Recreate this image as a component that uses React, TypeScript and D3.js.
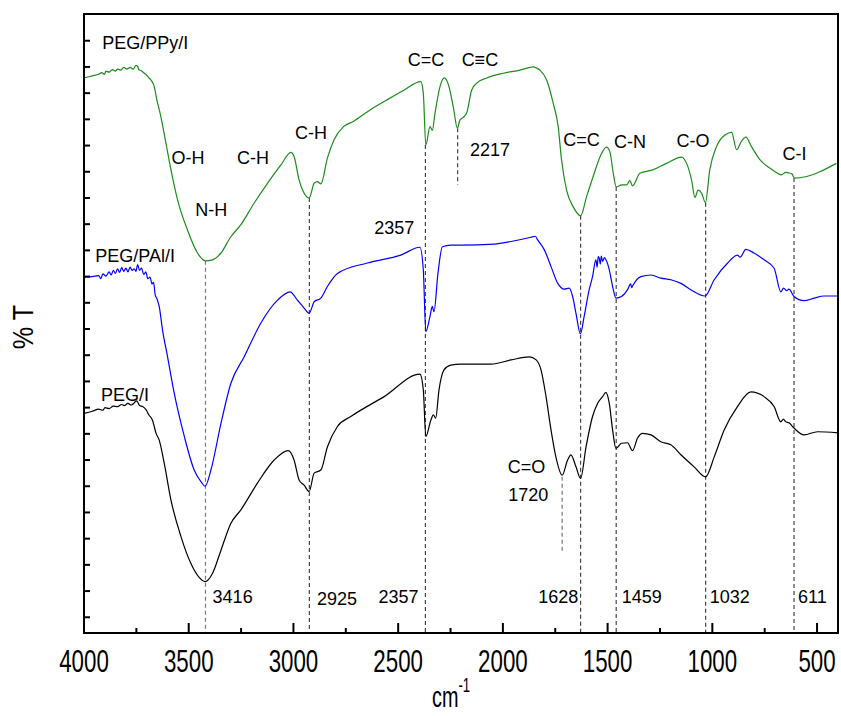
import React from 'react';
import * as d3 from 'd3';

type P = [number, number];

// wavenumber (cm-1), %T (arbitrary offset units)
const pegPPyI: P[] = [
  [4000,107.9],[3960,108.3],[3930,108.6],[3915,108.9],[3903,108.6],[3895,109.2],[3880,109.0],[3865,109.5],[3850,109.2],[3840,109.6],[3825,109.4],[3810,109.9],[3795,109.6],[3780,109.9],[3765,109.6],[3752,110.3],[3744,110.1],[3738,109.5],[3728,109.3],[3712,108.8],[3700,108.4],[3690,107.9],[3680,107.5],[3665,106.3],[3652,103.7],[3633,100.5],[3609,95.5],[3585,90.4],[3553,84.6],[3506,78.9],[3458,74.5],[3420,73.0],[3386,73.2],[3346,74.5],[3299,77.6],[3251,79.9],[3188,84.0],[3124,87.8],[3060,91.3],[3012,93.7],[2997,92.9],[2973,88.4],[2949,85.9],[2925,85.0],[2901,87.8],[2885,88.1],[2869,87.7],[2838,92.6],[2806,96.1],[2761,98.6],[2714,99.6],[2634,101.8],[2554,103.7],[2475,105.5],[2392,107.2],[2380,105.0],[2368,95.1],[2348,98.6],[2337,97.9],[2324,101.2],[2300,106.3],[2280,107.9],[2260,106.6],[2237,102.4],[2217,98.3],[2205,99.9],[2189,100.4],[2173,101.2],[2149,105.6],[2125,106.9],[2077,107.9],[1998,108.8],[1918,109.4],[1870,109.9],[1855,110.0],[1840,109.8],[1823,109.4],[1791,107.5],[1760,103.1],[1736,98.6],[1720,92.3],[1696,86.5],[1664,83.3],[1629,81.6],[1600,85.3],[1569,89.1],[1529,93.5],[1505,94.7],[1489,93.8],[1473,89.7],[1459,87.1],[1433,87.5],[1409,87.5],[1394,88.3],[1381,87.3],[1346,89.7],[1282,90.4],[1219,91.6],[1147,92.8],[1123,91.6],[1099,88.4],[1083,85.1],[1068,86.5],[1051,85.9],[1033,84.1],[1012,90.4],[980,94.8],[940,97.0],[908,97.5],[884,94.2],[861,95.8],[840,96.6],[813,94.8],[773,92.3],[726,90.7],[700,90.0],[670,89.4],[650,89.9],[638,89.8],[620,89.6],[608,88.8],[550,89.1],[487,90.0],[408,91.6]
];

const pegPAlI: P[] = [
  [4000,69.9],[3960,70.0],[3930,70.2],[3920,69.6],[3910,70.5],[3895,70.1],[3880,70.9],[3870,70.3],[3860,71.2],[3850,70.6],[3840,71.5],[3830,70.8],[3820,71.7],[3810,71.0],[3800,71.6],[3790,70.9],[3780,71.8],[3770,71.2],[3760,71.5],[3752,71.0],[3744,72.3],[3735,71.2],[3725,71.6],[3715,70.4],[3705,70.9],[3695,69.6],[3685,69.9],[3675,68.6],[3668,68.9],[3660,66.5],[3652,65.8],[3641,64.3],[3625,59.8],[3601,54.7],[3569,47.7],[3521,39.5],[3474,33.1],[3440,30.8],[3422,30.0],[3394,33.1],[3346,42.0],[3299,49.6],[3235,54.7],[3156,61.1],[3076,65.5],[3016,67.1],[2981,65.5],[2949,64.0],[2925,63.0],[2901,65.2],[2869,65.9],[2838,68.1],[2790,70.6],[2647,72.6],[2488,74.1],[2396,75.6],[2380,71.3],[2368,59.5],[2348,62.4],[2337,64.3],[2329,63.3],[2310,70.6],[2289,75.7],[2249,76.0],[2200,76.0],[2041,76.2],[1961,76.7],[1866,77.5],[1845,77.7],[1834,77.0],[1802,75.1],[1770,71.9],[1738,68.7],[1707,67.6],[1683,67.8],[1667,66.2],[1651,63.0],[1630,59.1],[1612,62.4],[1588,67.5],[1572,70.0],[1556,73.2],[1550,71.8],[1545,73.8],[1540,73.5],[1535,72.4],[1530,73.9],[1524,72.9],[1515,73.6],[1508,73.2],[1492,71.3],[1476,68.1],[1460,65.9],[1434,66.2],[1405,67.5],[1390,68.6],[1385,67.9],[1381,68.2],[1341,70.0],[1293,70.3],[1246,69.7],[1198,69.4],[1150,68.7],[1103,67.5],[1035,66.3],[991,69.4],[927,72.6],[880,74.1],[867,73.7],[840,75.2],[801,74.5],[753,73.2],[705,71.6],[673,67.1],[660,67.8],[645,67.3],[634,67.6],[610,66.2],[562,65.4],[514,65.9],[467,66.3],[401,66.3]
];

const pegI: P[] = [
  [4000,43.9],[3960,44.3],[3930,44.7],[3910,44.5],[3900,45.0],[3880,44.8],[3860,45.3],[3840,45.2],[3820,45.6],[3808,45.4],[3790,45.8],[3775,45.5],[3760,45.9],[3750,46.3],[3744,46.1],[3735,45.4],[3720,45.2],[3704,44.6],[3690,43.6],[3673,42.6],[3656,40.1],[3641,38.8],[3617,34.4],[3585,27.4],[3537,20.4],[3490,15.3],[3450,12.6],[3422,11.8],[3386,13.4],[3346,17.8],[3299,22.9],[3251,25.5],[3172,30.6],[3092,35.0],[3025,36.8],[2997,35.0],[2973,31.2],[2949,30.2],[2925,29.0],[2901,32.5],[2869,33.1],[2838,37.5],[2790,41.4],[2726,43.3],[2567,47.1],[2396,51.4],[2380,48.4],[2368,39.5],[2344,42.6],[2332,43.6],[2321,43.0],[2305,48.4],[2281,52.2],[2249,53.1],[2200,53.3],[2057,53.3],[1961,54.1],[1874,54.7],[1841,54.1],[1818,52.2],[1794,47.1],[1770,40.7],[1747,35.6],[1717,32.1],[1691,35.0],[1675,36.0],[1651,33.7],[1629,31.5],[1603,37.5],[1572,43.3],[1548,45.8],[1524,47.1],[1508,47.9],[1492,45.8],[1476,40.7],[1460,37.2],[1434,38.2],[1405,38.3],[1381,36.8],[1357,39.2],[1333,40.1],[1293,39.8],[1246,38.5],[1198,37.9],[1150,36.0],[1087,33.7],[1032,31.8],[991,35.6],[944,40.7],[880,45.2],[816,48.0],[753,47.1],[705,45.2],[673,42.3],[660,42.8],[650,42.3],[634,42.1],[610,41.1],[562,39.8],[498,40.4],[401,40.2]
];

const seriesData: P[][] = [pegPPyI, pegPAlI, pegI];
const seriesColors = ['#1c8c1c', '#0000ff', '#000000'];

const xMajorTicks = [4000, 3500, 3000, 2500, 2000, 1500, 1000, 500];
const xMinorTicks = [3750, 3250, 2750, 2250, 1750, 1250, 750];
const yTicks = d3.range(5, 116, 5);

// peak marker lines: wavenumber, top value, bottom value
const peakWn = [3420, 2924, 2370, 2216, 1629, 1459, 1032, 610, 1717];
const peakTop = [73.0, 85.0, 95.1, 98.3, 81.6, 87.1, 84.1, 88.8, 31.8];
const peakBottom = [2, 2, 2, 87.5, 2, 2, 2, 2, 17.5];

// annotations: text, wavenumber (left anchor), value (baseline)
const annText = ['PEG/PPy/I', 'O-H', 'N-H', 'C-H', 'C-H', 'C=C', 'C\u2261C', '2217', '2357', 'C=C', 'C-N', 'C-O', 'C-I', 'PEG/PAl/I', 'PEG/I', 'C=O', '1720', '3416', '2925', '2357', '1628', '1459', '1032', '611'];
const annWn = [3913, 3582, 3469, 3270, 2992, 2454, 2197, 2157, 2614, 1712, 1470, 1171, 665, 3946, 3919, 1977, 1974, 3386, 2888, 2594, 1831, 1433, 1012, 591];
const annVal = [113.4, 91.5, 81.6, 91.5, 96.3, 110.2, 110.2, 93.0, 78.1, 95.0, 94.5, 94.7, 92.3, 72.7, 46.3, 32.6, 27.1, 7.7, 7.3, 7.7, 7.7, 7.7, 7.7, 7.7];

const W = 841, H = 716;
const L = 84, R = 838, T = 14, B = 633;
const FONT = '"Liberation Sans", Arial, Helvetica, sans-serif';

export default function App() {
  const x = d3.scaleLinear().domain([4000, 400]).range([L, R]);
  const y = d3.scaleLinear().domain([2, 120.1]).range([B, T]);
  const line = d3.line<P>().x(d => x(d[0])).y(d => y(d[1])).curve(d3.curveMonotoneX);

  return (
    <svg width={W} height={H} style={{ position: 'absolute', left: 0, top: 0, background: '#fff' }}
      fontFamily={FONT}>
      <rect x={0} y={0} width={W} height={H} fill="#fff" />
      {/* peak dashed lines */}
      {peakWn.map((w, i) => (
        <line key={'pk' + i} x1={x(w)} x2={x(w)} y1={y(peakTop[i])} y2={y(peakBottom[i])}
          stroke={i === 0 || i === 8 ? '#777' : '#444'} strokeWidth={1.2} strokeDasharray="4,3" />
      ))}
      {/* spectra */}
      {seriesData.map((s, i) => (
        <path key={'s' + i} d={line(s) || ''} fill="none" stroke={seriesColors[i]} strokeWidth={1.2} strokeLinejoin="round" />
      ))}
      {/* frame */}
      <rect x={L} y={T} width={R - L} height={B - T} fill="none" stroke="#000" strokeWidth={2} />
      {/* x ticks */}
      {xMajorTicks.map(t => (
        <line key={'xM' + t} x1={x(t)} x2={x(t)} y1={B} y2={B - 10} stroke="#000" strokeWidth={2} />
      ))}
      {xMinorTicks.map(t => (
        <line key={'xm' + t} x1={x(t)} x2={x(t)} y1={B} y2={B - 5} stroke="#000" strokeWidth={2} />
      ))}
      {/* y ticks */}
      {yTicks.map(t => (
        <line key={'y' + t} x1={L} x2={L + 6} y1={y(t)} y2={y(t)} stroke="#000" strokeWidth={2} />
      ))}
      {/* x tick labels */}
      {xMajorTicks.map(t => (
        <g key={'xl' + t} transform={`translate(${x(t)},672) scale(0.72,1)`}>
          <text textAnchor="middle" fontSize={31} fill="#000">{String(t)}</text>
        </g>
      ))}
      {/* axis titles */}
      <g transform="translate(33,327) rotate(-90) scale(0.84,1)">
        <text textAnchor="middle" fontSize={30} fill="#000">% T</text>
      </g>
      <g transform="translate(432,707) scale(0.66,1)">
        <text fontSize={30} fill="#000">cm<tspan fontSize={20} dy={-15}>-1</tspan></text>
      </g>
      {/* annotations */}
      {annText.map((s, i) => (
        <text key={'a' + i} x={x(annWn[i])} y={y(annVal[i])} fontSize={18} fill="#000">{s}</text>
      ))}
    </svg>
  );
}
